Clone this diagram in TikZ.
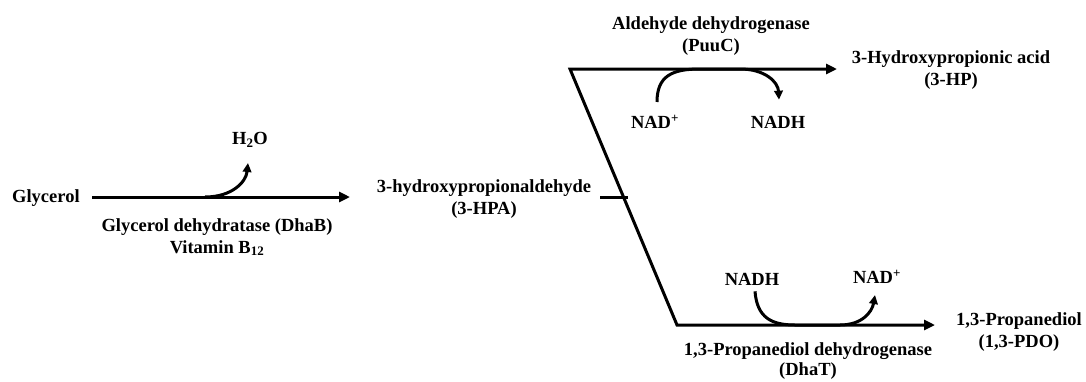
\documentclass[tikz,border=0pt]{standalone}
\usepackage{fontspec}
\setmainfont{Liberation Serif}
\usetikzlibrary{arrows.meta}
\begin{document}
\begin{tikzpicture}[x=1pt,y=-1pt,
  lbl/.style={font=\fontsize{18.5}{22}\selectfont\bfseries, align=center, inner sep=0pt},
  lbln/.style={lbl, font=\fontsize{18.5}{20}\selectfont\bfseries},
  rxn/.style={line width=3pt, line join=miter},
  bigtip/.tip={Triangle[length=11pt,width=10pt]},
  smalltip/.tip={Triangle[length=9pt,width=8.5pt]},
  arr/.style={rxn, -bigtip},
  carr/.style={rxn, -smalltip}]
\useasboundingbox (0,0) rectangle (1086,381);
% labels
\node[lbl, anchor=base west] (gly) at (12,202) {Glycerol};
\node[lbl] (h2o) at (250,140) {H\textsubscript{2}O};
\node[lbl] (dhab) at (217,237) {Glycerol dehydratase (DhaB)\\Vitamin B\textsubscript{12}};
\node[lbl] (hpa) at (484,199) {3-hydroxypropionaldehyde\\(3-HPA)};
\node[lbl] (puuc) at (711,36) {Aldehyde dehydrogenase\\(PuuC)};
\node[lbl] (hp) at (951,70) {3-Hydroxypropionic acid\\(3-HP)};
\node[lbl] (nadp1) at (655,122) {NAD\textsuperscript{+}};
\node[lbl] (nadh1) at (778,122) {NADH};
\node[lbl] (nadh2) at (752,279) {NADH};
\node[lbl] (nadp2) at (877,277) {NAD\textsuperscript{+}};
\node[lbl] (pdo) at (1019,332) {1,3-Propanediol\\(1,3-PDO)};
\node[lbln] (dhat) at (808,361) {1,3-Propanediol dehydrogenase\\(DhaT)};
% coordinates
\coordinate (g0) at (92,197);
\coordinate (g1) at (350,197);
\coordinate (b0) at (205,197);
\coordinate (b1) at (248,163);
\coordinate (t0) at (600,197);
\coordinate (t1) at (628,197);
\coordinate (top) at (837,69);
\coordinate (c1) at (570,69);
\coordinate (c2) at (677,325);
\coordinate (bot) at (935,325);
% main arrow
\draw[arr] (g0) -- (g1);
\draw[carr] (b0) .. controls (232,197) and (246,182) .. (b1);
% branch
\draw[rxn] (t0) -- (t1);
\draw[rxn, bigtip-bigtip] (top) -- (c1) -- (c2) -- (bot);
% cofactor curves
\draw[carr] ([xshift=2pt,yshift=13pt]nadp1.north) .. controls (657,76) and (672,69) .. (700,69) -- (740,69) .. controls (765,69) and (778,82) .. ([xshift=1pt,yshift=16pt]nadh1.north);
\draw[carr] ([xshift=3pt,yshift=-6pt]nadh2.south) .. controls (757,318) and (772,325) .. (795,325) -- (840,325) .. controls (862,325) and (872,312) .. ([xshift=-2pt,yshift=-11pt]nadp2.south);
\end{tikzpicture}
\end{document}
